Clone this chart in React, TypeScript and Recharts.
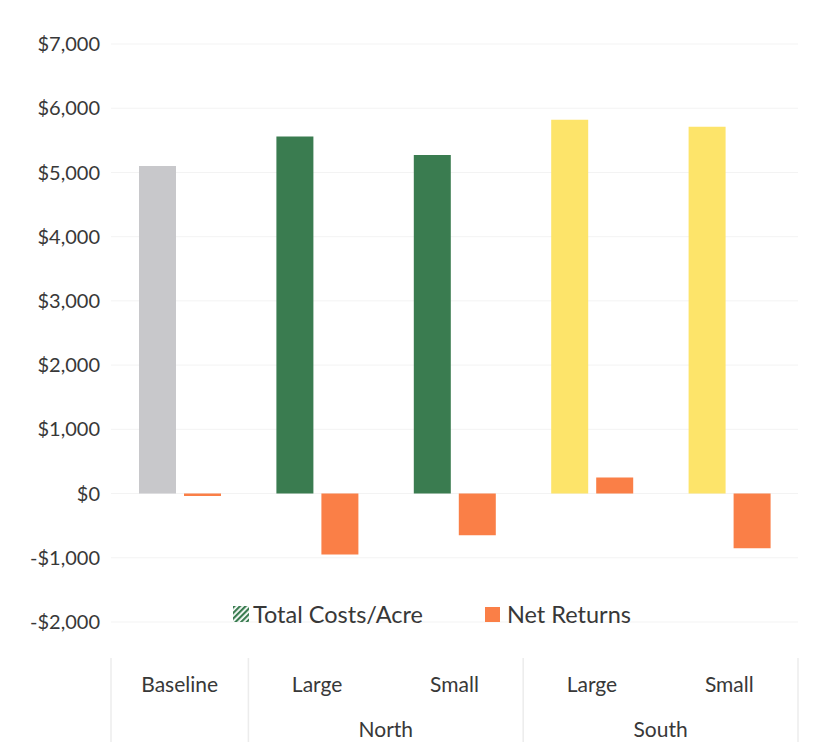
import React from 'react';
import { BarChart, Bar, XAxis, YAxis, CartesianGrid, Cell, Legend } from 'recharts';

// Cost vs. net return per scenario, grouped by region (two-row category axis)

const categories = ['Baseline', 'Large', 'Small', 'Large', 'Small'];
const regions = ['', 'North', 'North', 'South', 'South'];
const totalCosts = [5100, 5560, 5270, 5820, 5710];
const netReturns = [-40, -950, -650, 250, -850];
const yTicks = [-2000, -1000, 0, 1000, 2000, 3000, 4000, 5000, 6000, 7000];

const costColors = ['#c8c8cb', '#3a7c50', '#3a7c50', '#fde46a', '#fde46a'];
const netColor = '#fa7f47';
const textColor = '#383838';
const gridColor = '#f3f3f3';
const lineColor = '#ececec';
const font = "Lato, 'Open Sans', sans-serif";

const WIDTH = 810;
const HEIGHT = 734;
const MARGIN = { top: 36, right: 20, bottom: 0, left: 0 };
const Y_AXIS_WIDTH = 103;
const X_AXIS_HEIGHT = 92;
const PLOT_LEFT = MARGIN.left + Y_AXIS_WIDTH;
const PLOT_RIGHT = WIDTH - MARGIN.right;
const BAND = (PLOT_RIGHT - PLOT_LEFT) / categories.length;
const AXIS_TOP = HEIGHT - MARGIN.bottom - X_AXIS_HEIGHT;

const data = categories.map((name, i) => ({
  key: `${regions[i]}-${name}-${i}`,
  name,
  region: regions[i],
  cost: totalCosts[i],
  net: netReturns[i],
}));

const formatMoney = (v: number) =>
  `${v < 0 ? '-' : ''}$${Math.abs(v).toLocaleString('en-US')}`;

// category label on the first row, region label (and its divider lines) on the second
const CategoryTick = (props: any) => {
  const { x, payload } = props;
  const i = payload.index;
  const row = data[i];
  const first = i === 0 || data[i - 1].region !== row.region;
  let span = 0;
  if (first) {
    for (let j = i; j < data.length && data[j].region === row.region; j++) span++;
  }
  const left = x - BAND / 2;
  return (
    <g>
      <text
        x={x}
        y={AXIS_TOP + 33}
        textAnchor="middle"
        dominantBaseline="central"
        fill={textColor}
        fontSize={21}
        fontFamily={font}
      >
        {row.name}
      </text>
      {first && (
        <line x1={left} x2={left} y1={AXIS_TOP + 8} y2={HEIGHT} stroke={lineColor} strokeWidth={1.5} />
      )}
      {first && row.region && (
        <text
          x={left + (span * BAND) / 2}
          y={AXIS_TOP + 78}
          textAnchor="middle"
          dominantBaseline="central"
          fill={textColor}
          fontSize={21}
          fontFamily={font}
        >
          {row.region}
        </text>
      )}
      {i === data.length - 1 && (
        <line
          x1={x + BAND / 2}
          x2={x + BAND / 2}
          y1={AXIS_TOP + 8}
          y2={HEIGHT}
          stroke={lineColor}
          strokeWidth={1.5}
        />
      )}
    </g>
  );
};

const LegendContent = () => (
  <div
    style={{
      display: 'flex',
      alignItems: 'center',
      fontFamily: font,
      fontSize: 23.5,
      color: textColor,
      paddingLeft: 225,
    }}
  >
    <svg width={16} height={16} style={{ marginRight: 4 }}>
      <defs>
        <pattern id="costHatch" width="4" height="4" patternUnits="userSpaceOnUse" patternTransform="rotate(45)">
          <rect width="4" height="4" fill="#ffffff" />
          <rect width="2.2" height="4" fill="#3a7c50" />
        </pattern>
      </defs>
      <rect width={16} height={16} fill="url(#costHatch)" />
    </svg>
    <span>Total Costs/Acre</span>
    <svg width={15} height={15} style={{ marginLeft: 62, marginRight: 7 }}>
      <rect width={15} height={15} fill={netColor} />
    </svg>
    <span>Net Returns</span>
  </div>
);

export default function App() {
  return (
    <div style={{ width: WIDTH, height: HEIGHT, background: '#ffffff' }}>
      <BarChart
        width={WIDTH}
        height={HEIGHT}
        data={data}
        margin={MARGIN}
        barSize={37}
        barGap={8}
      >
        <CartesianGrid vertical={false} stroke={gridColor} />
        <XAxis
          dataKey="key"
          axisLine={false}
          tickLine={false}
          height={X_AXIS_HEIGHT}
          interval={0}
          tick={<CategoryTick />}
        />
        <YAxis
          domain={[-2000, 7000]}
          ticks={yTicks}
          axisLine={false}
          tickLine={false}
          width={Y_AXIS_WIDTH}
          tickFormatter={formatMoney}
          tickMargin={5}
          tick={{ fill: textColor, fontSize: 20, fontFamily: font }}
          interval={0}
        />
        <Legend
          content={<LegendContent />}
          wrapperStyle={{ position: 'absolute', top: 592, left: 0, width: WIDTH }}
        />
        <Bar dataKey="cost" name="Total Costs/Acre" isAnimationActive={false}>
          {data.map((d, i) => (
            <Cell key={d.key} fill={costColors[i]} />
          ))}
        </Bar>
        <Bar dataKey="net" name="Net Returns" fill={netColor} isAnimationActive={false} />
      </BarChart>
    </div>
  );
}
